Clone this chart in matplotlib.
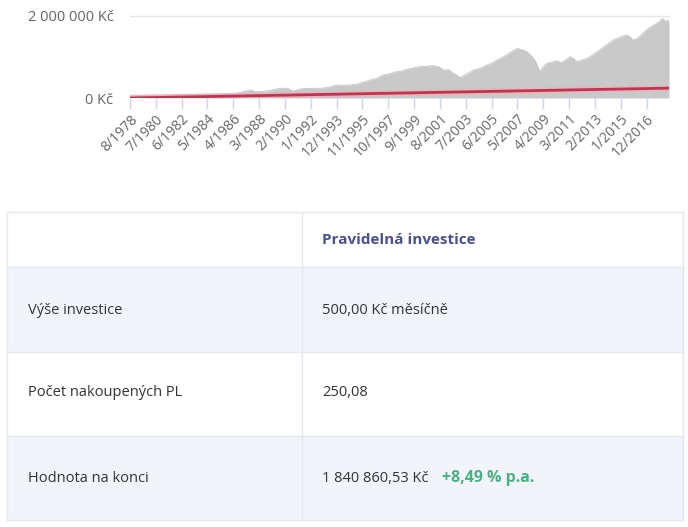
import matplotlib
matplotlib.use("Agg")
import matplotlib.pyplot as plt
from matplotlib.patches import Rectangle
from matplotlib.lines import Line2D
from matplotlib.ticker import FixedLocator, FixedFormatter

plt.rcParams['font.family'] = ['Open Sans', 'DejaVu Sans']

# ---------------- data ----------------
# months since 8/1978, portfolio value (Kč)
value_months = [0, 12, 24, 36, 48, 60, 72, 84, 90, 96, 100, 104, 107, 109, 111, 116, 122, 128, 134,
                140, 145, 150, 156, 160, 166, 172, 178, 184, 190, 196, 202, 208, 214, 220, 225,
                231, 237, 242, 246, 252, 258, 264, 270, 275, 279, 284, 288, 291, 294, 298, 302,
                306, 312, 318, 323, 327, 332, 337, 341, 345, 350, 354, 358, 361, 365, 368, 371,
                376, 380, 384, 388, 392, 395, 398, 403, 407, 412, 418, 424, 430, 436, 442, 445,
                448, 452, 456, 460, 464, 469, 472, 474, 476, 477, 479, 480]
values = [500, 6500, 14000, 22000, 31000, 42000, 56000, 75000, 95000, 120000, 150000, 175000, 195000,
          185000, 150000, 155000, 175000, 205000, 235000, 240000, 170000, 210000, 235000, 235000,
          238000, 240000, 270000, 317000, 310000, 317000, 340000, 390000, 440000, 480000, 560000,
          590000, 640000, 660000, 700000, 730000, 765000, 775000, 790000, 760000, 683000, 690000,
          600000, 560000, 495000, 560000, 620000, 683000, 724000, 805000, 860000, 927000, 1000000,
          1080000, 1150000, 1210000, 1170000, 1120000, 1010000, 900000, 640000, 760000, 845000,
          880000, 910000, 862000, 930000, 1010000, 960000, 886000, 930000, 967000, 1050000, 1170000,
          1290000, 1410000, 1480000, 1540000, 1500000, 1410000, 1460000, 1560000, 1660000, 1740000,
          1820000, 1880000, 1940000, 1900000, 1860000, 1900000, 1840860]

# invested amount (500 Kč monthly)
invested_months = [0, 480]
invested = [500, 240500]

tick_months = [0, 23, 46, 69, 92, 115, 138, 161, 184, 207, 230, 253, 276, 299, 322, 345, 368, 391,
               414, 437, 460]
tick_labels = ["8/1978", "7/1980", "6/1982", "5/1984", "4/1986", "3/1988", "2/1990", "1/1992",
               "12/1993", "11/1995", "10/1997", "9/1999", "8/2001", "7/2003", "6/2005", "5/2007",
               "4/2009", "3/2011", "2/2013", "1/2015", "12/2016"]
y_ticks = [0, 2000000]
y_labels = ["0 Kč", "2 000 000 Kč"]

row_labels = ["Výše investice", "Počet nakoupených PL", "Hodnota na konci"]
header = "Pravidelná investice"
row_values = ["500,00 Kč měsíčně", "250,08", "1 840 860,53 Kč"]
return_text = "+8,49 % p.a."

# ---------------- figure ----------------
W, H = 688, 527
fig = plt.figure(figsize=(W / 100, H / 100), dpi=100)
fig.patch.set_facecolor("white")


def fx(x):
    return x / W


def fy(y):
    return 1 - y / H


# chart axes
ax_l, ax_r, ax_t, ax_b = 130, 669, 16, 98
ax = fig.add_axes([fx(ax_l), fy(ax_b), (ax_r - ax_l) / W, (ax_b - ax_t) / H])
ax.set_xlim(0, 480)
ax.set_ylim(0, 2000000)
for s in ax.spines.values():
    s.set_visible(False)

ax.axhline(2000000, color="#e6e6e6", lw=1, zorder=0, clip_on=False)
ax.fill_between(value_months, 0, values, color="#c9c9c9", lw=0, zorder=1)
ax.plot(value_months, values, color="#c3c3c3", lw=0.6, zorder=1)
ax.plot(invested_months, invested, color="#eab3bd", lw=4.5, zorder=2, solid_capstyle="butt")
ax.plot(invested_months, invested, color="#b33b51", lw=2, zorder=3, solid_capstyle="butt")

ax.xaxis.set_major_locator(FixedLocator(tick_months))
ax.xaxis.set_major_formatter(FixedFormatter(tick_labels))
ax.tick_params(axis="x", length=8, width=1, color="#ccd6eb", pad=2, labelsize=10,
               labelcolor="#666666")
for lab in ax.get_xticklabels():
    lab.set_rotation(45)
    lab.set_ha("right")
    lab.set_rotation_mode("anchor")

ax.yaxis.set_major_locator(FixedLocator(y_ticks))
ax.yaxis.set_major_formatter(FixedFormatter(y_labels))
ax.tick_params(axis="y", length=0, pad=12, labelsize=10.5, labelcolor="#666666")

# ---------------- table ----------------
t_l, t_r = 7, 683
rows_y = [212, 267, 352, 436, 520]
col_x = 302
bgs = ["#ffffff", "#f1f5fb", "#ffffff", "#f1f5fb"]
for i in range(4):
    fig.add_artist(Rectangle((fx(t_l), fy(rows_y[i + 1])), (t_r - t_l) / W,
                             (rows_y[i + 1] - rows_y[i]) / H, transform=fig.transFigure,
                             facecolor=bgs[i], edgecolor="none", zorder=1))
line_c = "#e4e7ed"
for y in rows_y:
    fig.add_artist(Line2D([fx(t_l), fx(t_r)], [fy(y), fy(y)], transform=fig.transFigure,
                          color=line_c, lw=1, zorder=2))
for x in [t_l, col_x, t_r]:
    fig.add_artist(Line2D([fx(x), fx(x)], [fy(rows_y[0]), fy(rows_y[-1])],
                          transform=fig.transFigure, color=line_c, lw=1, zorder=2))

fig.text(fx(322), fy(240), header, fontsize=11, fontweight="bold", color="#4a5189",
         va="center", ha="left", zorder=3)
text_y = [310, 393, 478]
for lab, val, y in zip(row_labels, row_values, text_y):
    fig.text(fx(28), fy(y), lab, fontsize=10.5, color="#333333", va="center", ha="left", zorder=3)
    fig.text(fx(322), fy(y), val, fontsize=10.5, color="#333333", va="center", ha="left", zorder=3)
fig.text(fx(442), fy(478), return_text, fontsize=11.5, fontweight="bold", color="#4daf84",
         va="center", ha="left", zorder=3)

fig.savefig("out.png", dpi=100, facecolor="white")
